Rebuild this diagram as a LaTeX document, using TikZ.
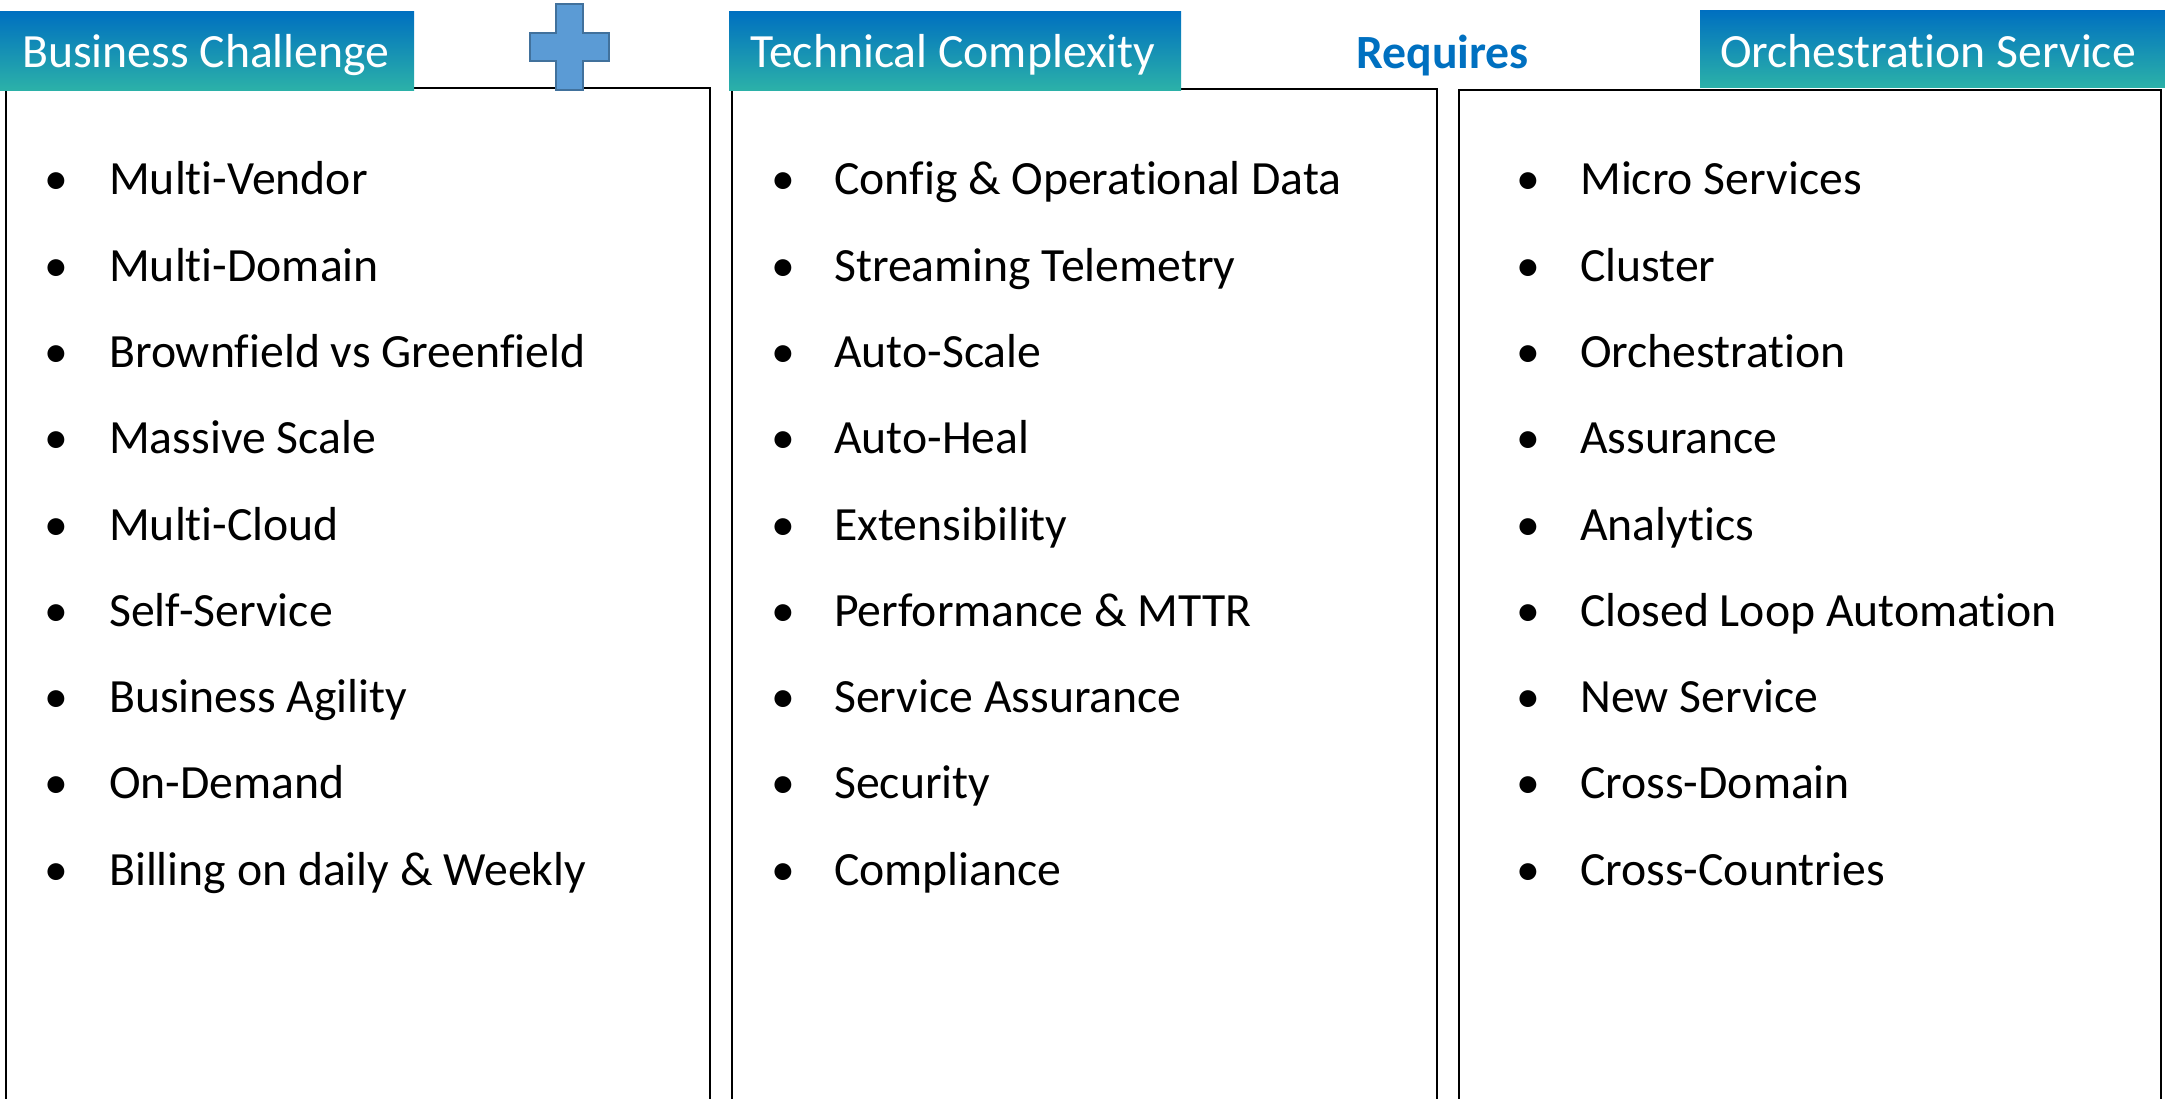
\documentclass[tikz,border=0pt]{standalone}
\usepackage{fontspec}
\setmainfont{Carlito}[Ligatures=NoCommon]
\definecolor{tabtop}{RGB}{0,112,192}
\definecolor{tabmid}{RGB}{62,196,190}
\definecolor{tabbot}{RGB}{44,178,168}
\definecolor{plusfill}{RGB}{91,155,213}
\definecolor{plusdraw}{RGB}{65,113,156}
\definecolor{reqblue}{RGB}{0,112,192}
\begin{document}
\begin{tikzpicture}[x=1pt,y=-1pt,
  panel/.style={draw=black,line width=2.5pt},
  tabbox/.style={top color=tabtop,middle color=tabmid,bottom color=tabbot,draw=none},
  bigfont/.style={font=\fontsize{47.7}{57}\selectfont},
  tabtext/.style={bigfont,anchor=base west,inner sep=0pt,text=white},
  item/.style={bigfont,anchor=base west,inner sep=0pt},
  bul/.style={bigfont,anchor=base,inner sep=0pt},
  plusshape/.style={fill=plusfill,draw=plusdraw,line width=2pt,line join=miter}
]
\useasboundingbox (0,0) rectangle (2165,1099);
\begin{scope}
\clip (0,0) rectangle (2165,1099);
% panels
\draw[panel] (6,88) rectangle (710,1130);
\draw[panel] (732,89) rectangle (1437,1130);
\draw[panel] (1459,90) rectangle (2161,1130);
\end{scope}
% tabs
\path[tabbox] (0,12) rectangle (414,91);
\path[tabbox] (729,12) rectangle (1181,91);
\path[tabbox] (1700,11) rectangle (2165,88);
\node[tabtext] (t1) at (22,68) {Business Challenge};
\node[tabtext] (t2) at (750,68) {Technical Complexity};
\node[tabtext] (t3) at (1720,68) {Orchestration Service};
% plus
\draw[plusshape] (556,4) -- (583,4) -- (583,33) -- (609,33) -- (609,61) -- (583,61)
  -- (583,90) -- (556,90) -- (556,61) -- (530,61) -- (530,33) -- (556,33) -- cycle;
% requires
\node[bigfont,anchor=base west,inner sep=0pt,text=reqblue] (req) at (1356,69) {\bfseries Requires};
% column 1
\foreach \t [count=\i] in {Multi-Vendor, Multi-Domain, Brownfield vs Greenfield, Massive Scale, Multi-Cloud, Self-Service, Business Agility, On-Demand, Billing on daily \& Weekly}{
  \node[bul] (a\i b) at (56,{195+86.25*(\i-1)}) {•};
  \node[item] (a\i) at (109,{195+86.25*(\i-1)}) {\t};
}
% column 2
\foreach \t [count=\i] in {Config \& Operational Data, Streaming Telemetry, Auto-Scale, Auto-Heal, Extensibility, Performance \& MTTR, Service Assurance, Security, Compliance}{
  \node[bul] (b\i b) at (783,{195+86.25*(\i-1)}) {•};
  \node[item] (b\i) at (834,{195+86.25*(\i-1)}) {\t};
}
% column 3
\foreach \t [count=\i] in {Micro Services, Cluster, Orchestration, Assurance, Analytics, Closed Loop Automation, New Service, Cross-Domain, Cross-Countries}{
  \node[bul] (c\i b) at (1528,{195+86.25*(\i-1)}) {•};
  \node[item] (c\i) at (1580,{195+86.25*(\i-1)}) {\t};
}
\end{tikzpicture}
\end{document}
